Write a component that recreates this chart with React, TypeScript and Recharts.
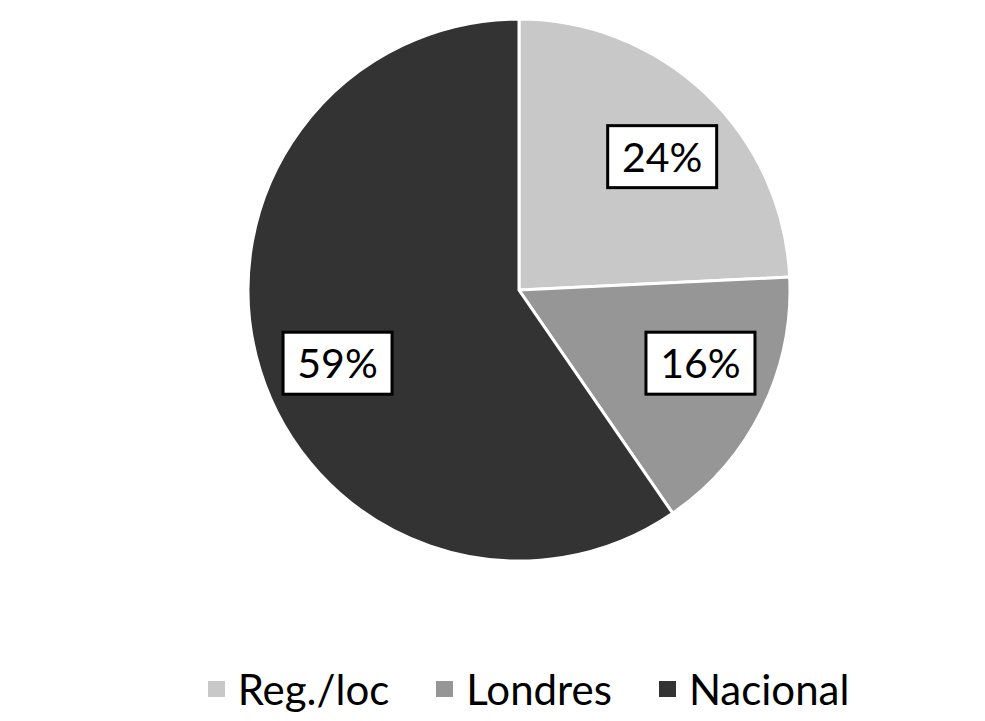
import React from "react";
import { PieChart, Pie, Cell, Legend } from "recharts";

const categories = ["Reg./loc", "Londres", "Nacional"];
const values = [24, 16, 59];
const labels = ["24%", "16%", "59%"];
const colors = ["#c8c8c8", "#969696", "#333333"];

const data = categories.map((name, i) => ({ name, value: values[i], label: labels[i] }));

const RAD = Math.PI / 180;
// small best-fit nudges of the label angle (degrees, counter-clockwise positive)
const labelAngleNudge = [-3.4, 4.4, 4.7];

const renderLabel = (props: any) => {
  const { cx, cy, midAngle, outerRadius, index } = props;
  const r = outerRadius * 0.722;
  const a = midAngle + labelAngleNudge[index];
  const x = cx + r * Math.cos(-a * RAD);
  const y = cy + r * Math.sin(-a * RAD);
  const w = 109;
  const h = 62;
  return (
    <g>
      <rect x={x - w / 2} y={y - h / 2} width={w} height={h} fill="#ffffff" stroke="#000000" strokeWidth={3} />
      <text x={x} y={y + 15} textAnchor="middle" fontFamily="Lato" fontSize={41} fill="#000000">
        {labels[index]}
      </text>
    </g>
  );
};

const renderLegend = () => (
  <div style={{ display: "flex", justifyContent: "center", alignItems: "center", fontFamily: "Lato", fontSize: 42, color: "#000", lineHeight: "40px", paddingLeft: 72 }}>
    {categories.map((c, i) => (
      <div key={c} style={{ display: "flex", alignItems: "center", marginRight: i < categories.length - 1 ? 47 : 0 }}>
        <span style={{ display: "inline-block", width: 17, height: 16, background: colors[i], marginRight: 13 }} />
        <span>{c}</span>
      </div>
    ))}
  </div>
);

export default function App() {
  return (
    <div style={{ width: 969, height: 705, background: "#fff" }}>
      <PieChart width={969} height={705}>
        <Pie
          data={data}
          dataKey="value"
          nameKey="name"
          cx={506}
          cy={277}
          outerRadius={271}
          startAngle={90}
          endAngle={-270}
          stroke="#ffffff"
          strokeWidth={3}
          label={renderLabel}
          labelLine={false}
          isAnimationActive={false}
        >
          {data.map((d, i) => (
            <Cell key={d.name} fill={colors[i]} />
          ))}
        </Pie>
        <Legend content={renderLegend} wrapperStyle={{ position: "absolute", left: 0, width: 969, top: 661 }} />
      </PieChart>
    </div>
  );
}
